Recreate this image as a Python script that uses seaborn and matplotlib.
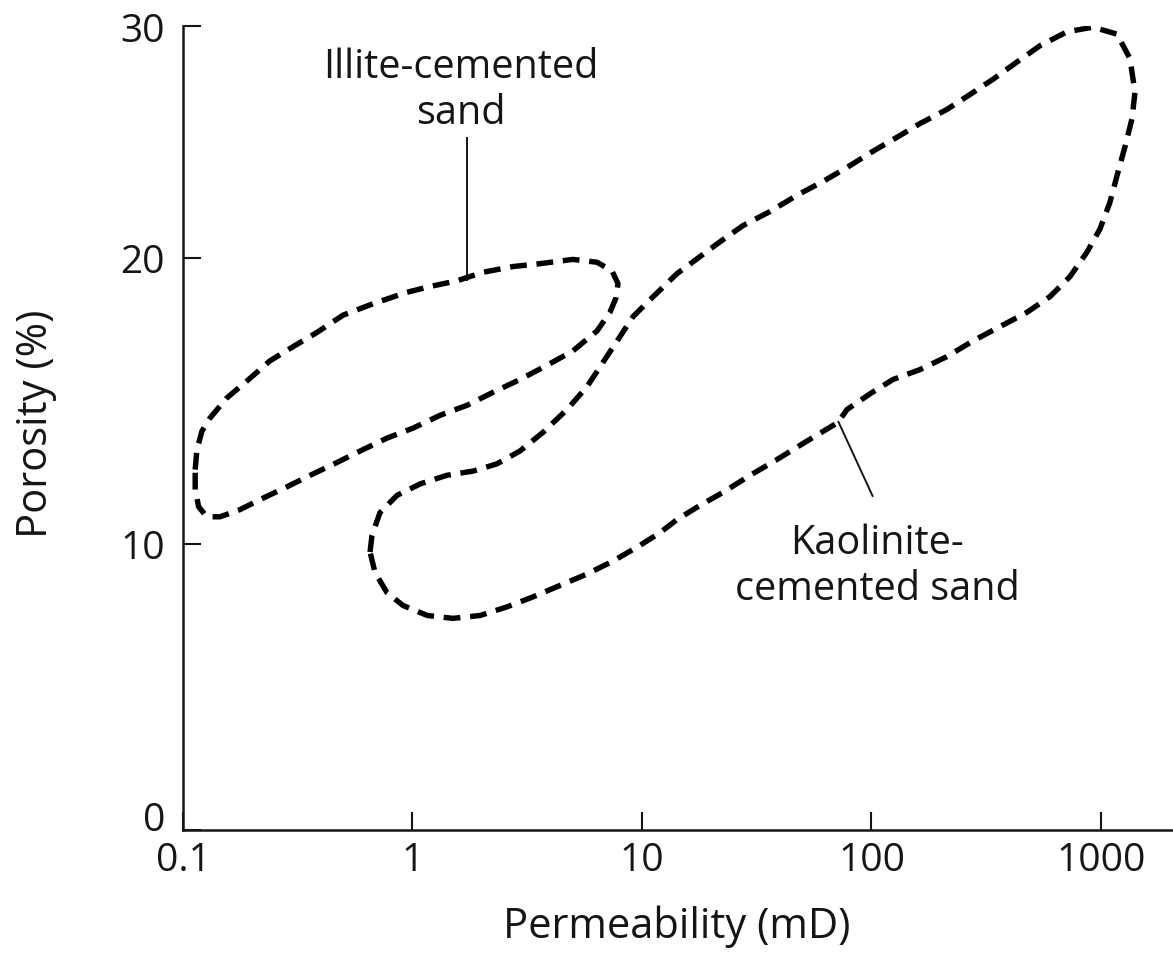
import numpy as np
import pandas as pd
import matplotlib
matplotlib.use("Agg")
import matplotlib.pyplot as plt
import seaborn as sns

# Outline of the illite-cemented sand field (permeability in mD, porosity in %)
illite_perm = [0.113, 0.115, 0.121, 0.131, 0.155, 0.190, 0.239, 0.302, 0.384,
               0.498, 0.673, 0.946, 1.19, 1.56, 2.03, 2.74, 3.59, 5.00, 6.37,
               7.40, 7.86, 7.70, 7.25, 6.37, 5.00, 3.86, 2.94, 2.24, 1.73,
               1.32, 1.005, 0.774, 0.591, 0.469, 0.358, 0.284, 0.223, 0.177,
               0.145, 0.127, 0.117, 0.113]
illite_poro = [12.6, 13.3, 13.95, 14.4, 15.1, 15.7, 16.4, 16.9, 17.4, 18.0,
               18.4, 18.8, 19.0, 19.2, 19.5, 19.7, 19.8, 19.95, 19.85, 19.55,
               19.1, 18.6, 18.1, 17.45, 16.75, 16.25, 15.75, 15.3, 14.85,
               14.5, 14.05, 13.7, 13.25, 12.85, 12.4, 12.0, 11.6, 11.2, 10.95,
               10.95, 11.3, 11.9]

# Outline of the kaolinite-cemented sand field
kaolinite_perm = [0.653, 0.666, 0.722, 0.856, 1.08, 1.41, 1.84, 2.33, 2.94,
                  3.70, 4.71, 5.76, 6.76, 8.02, 9.14, 11.2, 14.2, 21.9, 27.6,
                  36.1, 47.3, 61.5, 78.2, 101.5, 129, 163, 213, 269, 338,
                  431, 542, 711, 923, 1174, 1337, 1407, 1365, 1273, 1186,
                  1094, 990, 869, 733, 600, 476, 363, 277, 213, 163, 124,
                  98.5, 78.2, 71.5, 52.4, 38.7, 29.6, 22.5, 17.9, 14.2, 12.0,
                  9.80, 7.47, 5.76, 4.39, 3.35, 2.58, 1.97, 1.50, 1.16, 0.909,
                  0.774, 0.687]
kaolinite_poro = [9.72, 10.3, 11.1, 11.7, 12.1, 12.4, 12.55, 12.8, 13.25,
                  13.9, 14.7, 15.5, 16.35, 17.25, 17.95, 18.65, 19.45, 20.7,
                  21.4, 22.0, 22.7, 23.3, 23.9, 24.6, 25.2, 25.8, 26.4, 27.05,
                  27.7, 28.45, 29.15, 29.75, 29.95, 29.65, 28.6, 27.15, 26.0,
                  24.8, 23.7, 22.4, 21.25, 20.25, 19.35, 18.65, 18.1, 17.6,
                  17.1, 16.55, 16.1, 15.75, 15.25, 14.7, 14.25, 13.6, 12.95,
                  12.4, 11.8, 11.35, 10.85, 10.4, 9.95, 9.4, 8.95, 8.55, 8.15,
                  7.8, 7.5, 7.4, 7.5, 7.85, 8.3, 9.0]

x_ticks = [0.1, 1, 10, 100, 1000]
x_tick_labels = ["0.1", "1", "10", "100", "1000"]
y_ticks = [0, 10, 20, 30]
y_tick_labels = ["0", "10", "20", "30"]

sns.set_theme(style="ticks")
plt.rcParams["font.family"] = ["Open Sans", "DejaVu Sans"]
ink = "#151515"
fs_tick = 28
fs_note = 28.5
fs_label = 30

fig = plt.figure(figsize=(11.73, 9.54), dpi=100)
ax = fig.add_axes([183 / 1173, 123 / 954, 990 / 1173, 804 / 954])

# Porosity axis is stretched below 20 % and compressed above it
k_top = 0.811


def fwd(y):
    y = np.asarray(y, dtype=float)
    return np.where(y <= 20, y, 20 + (y - 20) * k_top)


def inv(t):
    t = np.asarray(t, dtype=float)
    return np.where(t <= 20, t, 20 + (t - 20) / k_top)


ax.set_xscale("log")
ax.set_yscale("function", functions=(fwd, inv))

loops = [(illite_perm, illite_poro), (kaolinite_perm, kaolinite_poro)]
for perm, poro in loops:
    df = pd.DataFrame({"perm": np.append(perm, perm[0]),
                       "poro": np.append(poro, poro[0])})
    sns.lineplot(data=df, x="perm", y="poro", sort=False, estimator=None,
                 ax=ax, color="black", linewidth=3.9,
                 dashes=False)
for line in ax.lines:
    line.set_dashes((3.1, 1.8))
    line.set_dash_capstyle("butt")

# Leader lines to the labels
ax.plot([1.728, 1.728], [19.2, 25.2], color=ink, lw=1.4, solid_capstyle="butt")
ax.plot([71.5, 101.5], [14.3, 11.65], color=ink, lw=1.4, solid_capstyle="butt")

ax.text(1.62, 27.25, "Illite-cemented\nsand", ha="center", va="center",
        fontsize=fs_note, color=ink, linespacing=1.2)
ax.text(105.7, 9.25, "Kaolinite-\ncemented sand", ha="center", va="center",
        fontsize=fs_note, color=ink, linespacing=1.17)

ax.set_xlim(0.1, 2060)
ax.set_ylim(0, 30)
ax.set_xticks(x_ticks, x_tick_labels)
ax.set_yticks(y_ticks, y_tick_labels)
ax.xaxis.set_minor_locator(matplotlib.ticker.NullLocator())
ax.yaxis.set_minor_locator(matplotlib.ticker.NullLocator())

ax.tick_params(axis="both", direction="in", length=13, width=1.5,
               color=ink, labelsize=fs_tick, labelcolor=ink)
ax.tick_params(axis="x", pad=8)
ax.tick_params(axis="y", pad=13)
ax.yaxis.get_major_ticks()[0].label1.set_va("baseline")

for side in ["top", "right"]:
    ax.spines[side].set_visible(False)
for side in ["left", "bottom"]:
    ax.spines[side].set_linewidth(1.8)
    ax.spines[side].set_color(ink)

ax.set_xlabel("Permeability (mD)", fontsize=fs_label, color=ink, va="center")
ax.set_ylabel("Porosity (%)", fontsize=fs_label, color=ink, va="center")
ax.xaxis.set_label_coords(0.499, -(927 - 831) / 804)
ax.yaxis.set_label_coords((36 - 183) / 990, (831 - 424) / 804)
ax.set_facecolor("white")
fig.patch.set_facecolor("white")

fig.savefig("out.png", dpi=100)
